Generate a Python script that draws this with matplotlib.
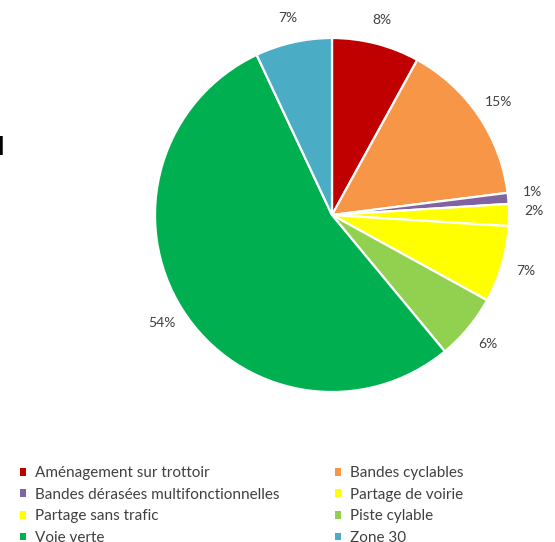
import matplotlib
matplotlib.use("Agg")
import matplotlib.pyplot as plt
from matplotlib.patches import Patch

categories = ["Aménagement sur trottoir", "Bandes cyclables",
              "Bandes dérasées multifonctionnelles", "Partage de voirie",
              "Partage sans trafic", "Piste cylable", "Voie verte", "Zone 30"]
values = [8, 15, 1, 2, 7, 6, 54, 7]
colors = ["#C00000", "#F79646", "#8064A2", "#FFFF00",
          "#FFFF00", "#92D050", "#00B050", "#4BACC6"]

W, H = 555, 542
fig = plt.figure(figsize=(W / 100, H / 100), dpi=100)
cx, cy, R = 332, 215, 177
ax = fig.add_axes([(cx - R) / W, (H - cy - R) / H, 2 * R / W, 2 * R / H])

wedges, texts, autotexts = ax.pie(
    values, colors=colors, startangle=90, counterclock=False,
    radius=1.0, autopct=lambda p: f"{p:.0f}%", pctdistance=1.14,
    wedgeprops=dict(edgecolor="white", linewidth=1.6),
    textprops=dict(color="#404040", fontsize=10, family=["Lato", "DejaVu Sans"]))
for t in autotexts:
    t.set_clip_on(False)
# nudge the two small-slice labels slightly up, as in the reference
for i in (2, 3):
    x, y = autotexts[i].get_position()
    autotexts[i].set_position((x, y + 0.025))
ax.set_xlim(-1, 1)
ax.set_ylim(-1, 1)
ax.set_aspect("auto")
ax.axis("off")

handles = [Patch(facecolor=c, edgecolor="none") for c in colors]
left_idx = [0, 2, 4, 6]
right_idx = [1, 3, 5, 7]
common = dict(loc="upper left", frameon=False,
              handlelength=0.42, handleheight=0.42, handletextpad=0.55,
              labelspacing=0.5, borderpad=0, borderaxespad=0,
              prop=dict(family=["Lato", "DejaVu Sans"], size=11))
leg1 = fig.legend([handles[i] for i in left_idx], [categories[i] for i in left_idx],
                  bbox_to_anchor=(20 / W, 1 - 466 / H), **common)
leg2 = fig.legend([handles[i] for i in right_idx], [categories[i] for i in right_idx],
                  bbox_to_anchor=(335 / W, 1 - 466 / H), **common)
for leg in (leg1, leg2):
    for t in leg.get_texts():
        t.set_color("#404040")

fig.text(5 / W, 1 - 155 / H, "d", ha="right", va="baseline", fontsize=18,
         fontweight="bold", color="black", family="DejaVu Sans")

fig.savefig("out.png", dpi=100)
